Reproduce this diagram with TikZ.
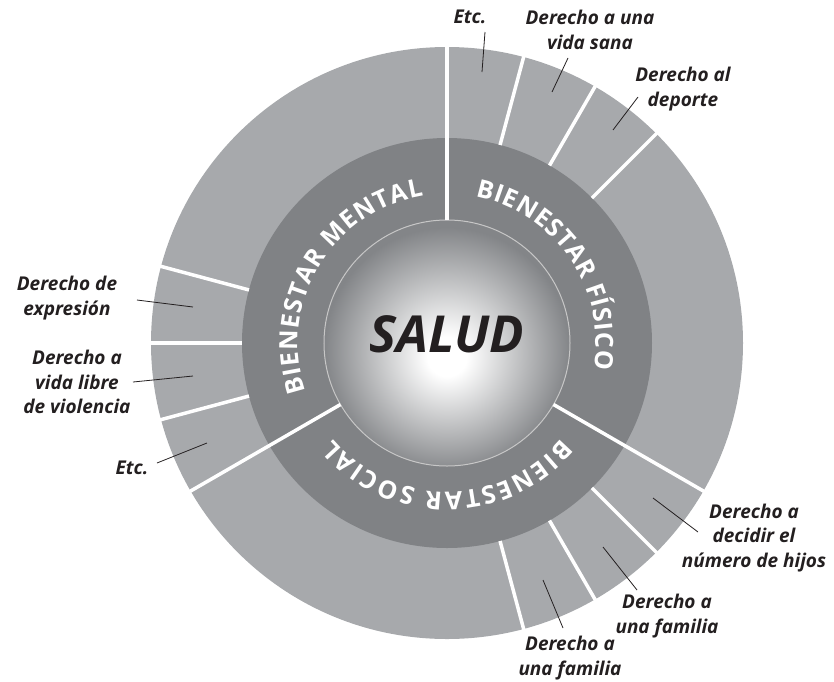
\documentclass[tikz,border=0pt]{standalone}
\usepackage{fontspec}
\setmainfont{Open Sans}
\usetikzlibrary{decorations.text}

\definecolor{ringlight}{HTML}{A7A9AC}
\definecolor{ringdark}{HTML}{808285}
\definecolor{balledge}{HTML}{838588}
\definecolor{inkdark}{HTML}{231F20}
\pgfdeclareradialshading{saludball}{\pgfpoint{0bp}{-3bp}}{color(0bp)=(white); color(4bp)=(white); color(25bp)=(balledge); color(50bp)=(balledge)}

\begin{document}
\begin{tikzpicture}[x=1pt, y=1pt,
  every node/.style={font=\fontsize{19}{24.5}\selectfont\bfseries\itshape, align=center, text=inkdark},
  leader/.style={draw=inkdark, line width=.8pt},
  cut/.style={draw=white, line width=3.5pt},
  ringtext/.style={decorate, decoration={text along path, text align={fit to path}, text color=white, text={|\fontsize{25}{25}\selectfont\bfseries\upshape|#1}}}]
  \useasboundingbox (-447,-338) rectangle (387,343);
  \fill[ringlight] (0,0) circle (296);
  \fill[ringdark] (0,0) circle (205);
  \shade[shading=saludball, draw=black!22, line width=1pt] (0,0) circle (123);
  \foreach \a in {90,-30,210} \draw[cut] (\a:123) -- (\a:297);
  \foreach \a in {75,60,45,-45,-60,-75,165,180,195} \draw[cut] (\a:205) -- (\a:297);

  \path[ringtext={BIENESTAR MENTAL}] (199:149) arc[start angle=199, end angle=99, radius=149];
  \path[ringtext={BIENESTAR FÍSICO}] (79:149) arc[start angle=79, end angle=-10, radius=149];
  \path[ringtext={BIENESTAR SOCIAL}] (-40:149) arc[start angle=-40, end angle=-140, radius=149];

  \node (salud) at (0,9) {\fontsize{51}{51}\selectfont SALUD};

  \node (etcup) at (23,326) {Etc.};
  \node (sana) at (143,313) {Derecho a una\\vida sana};
  \node (deporte) at (236,254) {Derecho al\\deporte};
  \node (expresion) at (-380,45) {Derecho de\\expresión};
  \node (violencia) at (-370,-39) {Derecho a\\vida libre\\de violencia};
  \node (etcleft) at (-315,-125) {Etc.};
  \node (hijos) at (307,-195) {Derecho a\\decidir el\\número de hijos};
  \node (familiaA) at (220,-273) {Derecho a\\una familia};
  \node (familiaB) at (123,-315) {Derecho a\\una familia};

  \coordinate (etcup1) at (38,311);
  \coordinate (etcup2) at (35,271);
  \coordinate (sana1) at (121,285);
  \coordinate (sana2) at (105,251);
  \coordinate (deporte1) at (191,246);
  \coordinate (deporte2) at (166,213);
  \coordinate (expresion1) at (-310,43);
  \coordinate (expresion2) at (-254,36);
  \coordinate (violencia1) at (-314,-39);
  \coordinate (violencia2) at (-254,-33);
  \coordinate (etcleft1) at (-290,-120);
  \coordinate (etcleft2) at (-240,-100);
  \coordinate (hijos1) at (251,-189);
  \coordinate (hijos2) at (206,-155);
  \coordinate (familiaA1) at (190,-247);
  \coordinate (familiaA2) at (156,-204);
  \coordinate (familiaB1) at (116,-285);
  \coordinate (familiaB2) at (96,-237);

  \draw[leader] (etcup1) -- (etcup2);
  \draw[leader] (sana1) -- (sana2);
  \draw[leader] (deporte1) -- (deporte2);
  \draw[leader] (expresion1) -- (expresion2);
  \draw[leader] (violencia1) -- (violencia2);
  \draw[leader] (etcleft1) -- (etcleft2);
  \draw[leader] (hijos1) -- (hijos2);
  \draw[leader] (familiaA1) -- (familiaA2);
  \draw[leader] (familiaB1) -- (familiaB2);
\end{tikzpicture}
\end{document}
